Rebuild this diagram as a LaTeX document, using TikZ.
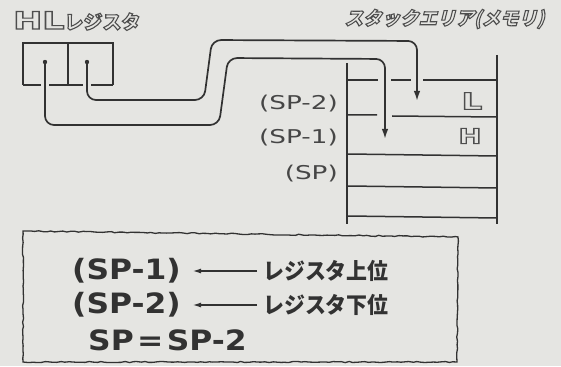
\documentclass[tikz,border=0pt]{standalone}
\usepackage{fontspec}
\usetikzlibrary{arrows.meta,decorations.pathmorphing,calc}
\newfontfamily\cjk{Noto Sans CJK JP}
\newfontfamily\lat{DejaVu Sans}
\definecolor{bgc}{RGB}{229,229,226}
\definecolor{inkc}{RGB}{50,50,50}
\definecolor{pencil}{RGB}{70,70,70}
\definecolor{outl}{RGB}{78,78,78}
\newcommand\outltext[1]{\special{pdf:literal direct 1 Tr 1.1 w}#1\special{pdf:literal direct 0 Tr}}
\tikzset{
  ink/.style={draw=inkc,line width=1.5pt},
  hollow/.style={text=outl,inner sep=0pt},
  wire/.style={draw=inkc,line width=1.7pt,rounded corners=9pt,-{Latex[length=10pt,width=6.5pt]}},
  lbl/.style={text=pencil,inner sep=0pt,anchor=east,font=\lat\fontsize{19}{19}\selectfont,xscale=1.38,transform shape},
  boxlat/.style={text=inkc,inner sep=0pt,anchor=west,font=\lat\bfseries\fontsize{28}{28}\selectfont,xscale=1.12,transform shape},
  boxjp/.style={text=inkc,inner sep=0pt,anchor=west,font=\cjk\bfseries\fontsize{22.5}{22.5}\selectfont,xscale=0.93,transform shape},
  thinarrow/.style={draw=inkc,line width=1.1pt,-{Latex[length=8pt,width=5pt]}},
  wavy/.style={draw=inkc,line width=1.3pt,decorate,decoration={random steps,segment length=4pt,amplitude=0.6pt}}
}
\begin{document}
\begin{tikzpicture}[x=1pt,y=-1pt]
\useasboundingbox (0,0) rectangle (561,366);
\fill[bgc] (0,0) rectangle (561,366);

% titles
\node[hollow,anchor=west] (hltitle) at (13,21) {\outltext{\scalebox{1.45}[1]{\lat\bfseries\fontsize{24}{24}\selectfont HL}\cjk\bfseries\fontsize{19}{19}\selectfont レジスタ}};
\node[hollow,xslant=0.25,transform shape] (sttitle) at (446,19) {\outltext{\cjk\bfseries\fontsize{18.5}{18.5}\selectfont スタックエリア(メモリ)}};

% register
\draw[ink] (23,85) -- (23,43) -- (113,43) -- (113,85);
\draw[ink] (68,43) -- (68,85);
\draw[ink] (23,85) -- (41,85) (49,85) -- (83,85) (91,85) -- (113,85);
\coordinate (rH) at (45,62);
\coordinate (rL) at (87,62);
\fill[inkc] (rH) circle (2.2pt) (rL) circle (2.2pt);

% stack
\draw[ink,line width=1.8pt] (347,63) -- (347,224);
\draw[ink,line width=1.8pt] (497,55) -- (497,224);
\draw[ink] (348,80) -- (378,80) (391,80) -- (411,80) (423,80) -- (497,80);
\draw[ink] (348,115) -- (377,115) (392,116) -- (497,117);
\draw[ink] (348,154) -- (497,156);
\draw[ink] (348,186) -- (497,188);
\draw[ink] (348,216) -- (497,218);
\node[hollow] (cL) at (472,101) {\outltext{\scalebox{1.4}[1]{\lat\bfseries\fontsize{23}{23}\selectfont L}}};
\node[hollow] (cH) at (470,136) {\outltext{\scalebox{1.3}[1]{\lat\bfseries\fontsize{21}{21}\selectfont H}}};
\coordinate (tipL) at (417,101);
\coordinate (tipH) at (385,139);

% wires
\draw[wire] (rL) -- (87,100) -- (204,100) -- (212,40) -- (417,41) -- (tipL);
\draw[wire] (rH) -- (45,125) -- (219,125) -- (228,58) -- (385,59) -- (tipH);

% labels
\node[lbl] (sp2) at (338,104) {(SP-2)};
\node[lbl] (sp1) at (338,138) {(SP-1)};
\node[lbl] (sp0) at (338,174) {(SP)};

% bottom box
\draw[wavy] (23,231) -- (458,237) -- (457,362) -- (23,362) -- cycle;
\node[boxlat] (a1) at (72,271) {(SP-1)};
\node[boxjp] (b1) at (263,271) {レジスタ上位};
\node[boxlat] (a2) at (72,305) {(SP-2)};
\node[boxjp] (b2) at (263,305) {レジスタ下位};
\node[boxlat] (a3) at (88,340) {\spaceskip=3pt\relax SP = SP-2};
\draw[thinarrow,shorten <=6pt] (b1.west) -- (193,271);
\draw[thinarrow,shorten <=6pt] (b2.west) -- (193,305);
\end{tikzpicture}
\end{document}
